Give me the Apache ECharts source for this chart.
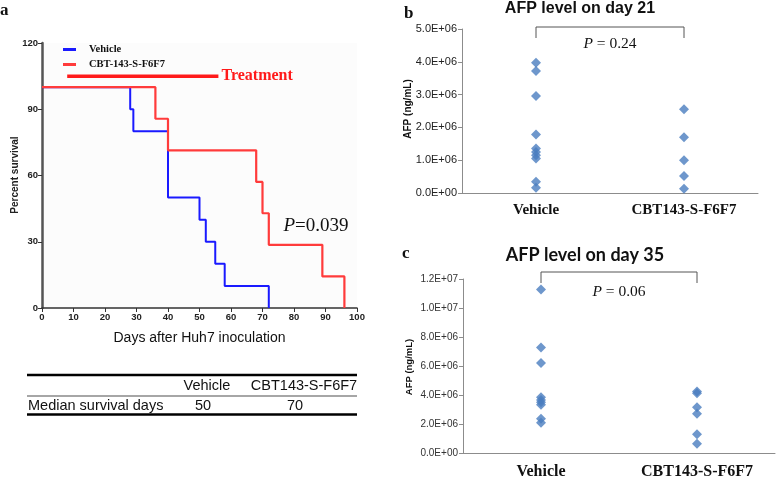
<!DOCTYPE html>
<html><head><meta charset="utf-8">
<script src="https://cdn.jsdelivr.net/npm/echarts@6/dist/echarts.min.js"></script>
<style>html,body{margin:0;padding:0;background:#fff}#c{width:778px;height:480px}</style>
</head><body><div id="c"></div>
<script>
// ---- data ----
const vehicleSurv = [[0,100],[28,90],[29,80],[40,50],[50,40],[52,30],[55,20],[58,10],[72,0]];
const cbtSurv = [[0,100],[36,85.7],[40,71.4],[68,57.1],[70,42.9],[72,28.6],[89,14.3],[96,0]];
const treatmentSpan = [8, 56];
const treatmentLevel = 105;
const groups = ['Vehicle', 'CBT143-S-F6F7'];
const day21Vehicle = [3.97e6,3.72e6,2.96e6,1.78e6,1.36e6,1.25e6,1.15e6,1.05e6,0.34e6,0.16e6];
const day21Cbt = [2.55e6,1.70e6,1.0e6,0.52e6,0.13e6];
const day35Vehicle = [11.28e6,7.28e6,6.2e6,3.85e6,3.66e6,3.5e6,3.32e6,2.36e6,2.08e6];
const day35Cbt = [4.25e6,4.12e6,3.16e6,2.7e6,1.3e6,0.64e6];
const tableHeader = ['Vehicle','CBT143-S-F6F7'];
const tableRowLabel = 'Median survival days';
const medianDays = ['50','70'];
const pValues = ['0.039','0.24','0.06'];

function sci(v){
  if (Math.abs(v) < 1e-9) return '0.0E+00';
  const e = Math.floor(Math.log10(v) + 1e-9);
  const m = v / Math.pow(10, e);
  return m.toFixed(1) + 'E+' + String(e).padStart(2,'0');
}
const serif = '"Liberation Serif","Times New Roman",serif';
const sans = '"Liberation Sans",Arial,sans-serif';
const blue = '#4a7dbf';
const vehColor = '#1a1aff';
const cbtColor = '#ff3b3b';

const chart = echarts.init(document.getElementById('c'), null, {renderer:'canvas'});
const opt = {
  animation:false,
  backgroundColor:'#fff',
  legend:{
    left:58, top:39, orient:'vertical', itemWidth:13, itemHeight:3, itemGap:4,
    data:[
      {name:'Vehicle', icon:'rect', itemStyle:{color:vehColor, borderWidth:0}},
      {name:'CBT-143-S-F6F7', icon:'rect', itemStyle:{color:cbtColor, borderWidth:0}}
    ],
    textStyle:{fontFamily:serif, fontWeight:'bold', fontSize:10.5, color:'#111', padding:[0,0,0,8]}
  },
  grid:[
    {left:42, top:43, width:315, height:265, show:true, backgroundColor:'#fcfcfc', borderWidth:0},
    {left:462, top:29, width:296, height:164},
    {left:463, top:279, width:312, height:178}
  ],
  xAxis:[
    {gridIndex:0, type:'value', min:0, max:100, interval:10,
     axisLine:{show:true, lineStyle:{color:'#333', width:1.5}},
     axisTick:{show:true, length:4, lineStyle:{color:'#333'}},
     axisLabel:{fontFamily:sans, fontSize:9.5, fontWeight:'bold', color:'#222', margin:4},
     splitLine:{show:false},
     name:'Days after Huh7 inoculation', nameLocation:'middle', nameGap:23,
     nameTextStyle:{fontFamily:sans, fontSize:14, color:'#111'}},
    {gridIndex:1, type:'category', data:groups, boundaryGap:true,
     axisLine:{lineStyle:{color:'#8c8c8c'}},
     axisTick:{alignWithLabel:true, length:3, lineStyle:{color:'#8c8c8c'}},
     axisLabel:{fontFamily:serif, fontWeight:'bold', fontSize:15, color:'#111', margin:10}},
    {gridIndex:2, type:'category', data:groups, boundaryGap:true,
     axisLine:{lineStyle:{color:'#8c8c8c'}},
     axisTick:{alignWithLabel:true, length:3, lineStyle:{color:'#8c8c8c'}},
     axisLabel:{fontFamily:serif, fontWeight:'bold', fontSize:16, color:'#111', margin:11}}
  ],
  yAxis:[
    {gridIndex:0, type:'value', min:0, max:120, interval:30,
     axisLine:{show:true, lineStyle:{color:'#555', width:2.5}},
     axisTick:{show:true, length:4, lineStyle:{color:'#333'}},
     axisLabel:{fontFamily:sans, fontSize:9.5, fontWeight:'bold', color:'#222', margin:4},
     splitLine:{show:false}},
    {gridIndex:1, type:'value', min:0, max:5e6, interval:1e6,
     axisLine:{show:true, lineStyle:{color:'#8c8c8c'}},
     axisTick:{show:true, length:4, lineStyle:{color:'#8c8c8c'}},
     axisLabel:{fontFamily:sans, fontSize:11, color:'#222', margin:5, formatter:sci},
     splitLine:{show:false}},
    {gridIndex:2, type:'value', min:0, max:1.2e7, interval:2e6,
     axisLine:{show:true, lineStyle:{color:'#8c8c8c'}},
     axisTick:{show:true, length:4, lineStyle:{color:'#8c8c8c'}},
     axisLabel:{fontFamily:sans, fontSize:10, color:'#333', margin:5, formatter:sci},
     splitLine:{show:false}}
  ],
  series:[
    {name:'Vehicle', type:'line', xAxisIndex:0, yAxisIndex:0, step:'end', data:vehicleSurv, z:2,
     symbol:'none', lineStyle:{color:vehColor, width:2}, itemStyle:{color:vehColor}},
    {name:'CBT-143-S-F6F7', type:'line', xAxisIndex:0, yAxisIndex:0, step:'end', data:cbtSurv, z:3,
     symbol:'none', lineStyle:{color:cbtColor, width:2.2}, itemStyle:{color:cbtColor}},
    {name:'Treatment', type:'line', xAxisIndex:0, yAxisIndex:0,
     data:[[treatmentSpan[0],treatmentLevel],[treatmentSpan[1],treatmentLevel]],
     symbol:'none', lineStyle:{color:'#ff1a1a', width:3.5},
     endLabel:{show:true, formatter:'Treatment', fontFamily:serif, fontWeight:'bold', fontSize:16, color:'#ff1a1a', distance:3}},
    {type:'scatter', xAxisIndex:1, yAxisIndex:1, symbol:'diamond', symbolSize:[10,10],
     itemStyle:{color:blue}, data:day21Vehicle.map(v=>[0,v])},
    {type:'scatter', xAxisIndex:1, yAxisIndex:1, symbol:'diamond', symbolSize:[10,10],
     itemStyle:{color:blue}, data:day21Cbt.map(v=>[1,v])},
    {type:'scatter', xAxisIndex:2, yAxisIndex:2, symbol:'diamond', symbolSize:[10,10],
     itemStyle:{color:blue}, data:day35Vehicle.map(v=>[0,v])},
    {type:'scatter', xAxisIndex:2, yAxisIndex:2, symbol:'diamond', symbolSize:[10,10],
     itemStyle:{color:blue}, data:day35Cbt.map(v=>[1,v])}
  ]
};
chart.setOption(opt);

// annotations positioned with the chart's own scales
const pA = chart.convertToPixel({gridIndex:0}, [87, 37]);
const b0 = chart.convertToPixel({gridIndex:1}, [0, 5e6]);
const b1 = chart.convertToPixel({gridIndex:1}, [1, 5e6]);
const c0 = chart.convertToPixel({gridIndex:2}, [0, 1.2e7]);
const c1 = chart.convertToPixel({gridIndex:2}, [1, 1.2e7]);
const bBase = chart.convertToPixel({gridIndex:1}, [0, 0]);
const cBase = chart.convertToPixel({gridIndex:2}, [0, 0]);

function bracket(p0, p1, topOff, drop){
  const y = p0[1] + topOff;
  return {type:'polyline', shape:{points:[[p0[0],y+drop],[p0[0],y],[p1[0],y],[p1[0],y+drop]]},
    style:{stroke:'#555', lineWidth:1, fill:null}};
}
function ptext(x, y, val, size){
  return {type:'text', x:x, y:y, style:{
    text:'{i|P} = ' + val, fontFamily:serif, fontSize:size, fill:'#111', align:'center', verticalAlign:'middle',
    rich:{i:{fontStyle:'italic', fontFamily:serif, fontSize:size, fill:'#111'}}}};
}
const tx = [27, 357];
chart.setOption({graphic:[
  {type:'text', x:0, y:11, style:{text:'a', fontFamily:serif, fontWeight:'bold', fontSize:17, fill:'#111', verticalAlign:'middle'}},
  {type:'text', x:404, y:14, style:{text:'b', fontFamily:serif, fontWeight:'bold', fontSize:17, fill:'#111', verticalAlign:'middle'}},
  {type:'text', x:402, y:254, style:{text:'c', fontFamily:serif, fontWeight:'bold', fontSize:17, fill:'#111', verticalAlign:'middle'}},
  {type:'text', x:580, y:9, style:{text:'AFP level on day 21', fontFamily:sans, fontWeight:'bold', fontSize:16, fill:'#111', align:'center', verticalAlign:'middle'}},
  {type:'text', x:585, y:255, style:{text:'AFP level on day 35', fontFamily:'Lato,sans-serif', fontWeight:'bold', fontSize:18, fill:'#111', align:'center', verticalAlign:'middle'}},
  {type:'text', x:15, y:175, rotation:Math.PI/2, style:{text:'Percent survival', fontFamily:sans, fontWeight:'bold', fontSize:10, fill:'#222', align:'center', verticalAlign:'middle'}},
  {type:'text', x:408, y:(b0[1]+bBase[1])/2 - 2, rotation:Math.PI/2, style:{text:'AFP (ng/mL)', fontFamily:sans, fontWeight:'bold', fontSize:10, fill:'#111', align:'center', verticalAlign:'middle'}},
  {type:'text', x:409, y:(c0[1]+cBase[1])/2 + 1, rotation:Math.PI/2, style:{text:'AFP (ng/mL)', fontFamily:sans, fontWeight:'bold', fontSize:9.5, fill:'#111', align:'center', verticalAlign:'middle'}},
  {type:'text', x:pA[0], y:pA[1], style:{
    text:'{i|P}=' + pValues[0], fontFamily:serif, fontSize:19, fill:'#111', align:'center', verticalAlign:'middle',
    rich:{i:{fontStyle:'italic', fontFamily:serif, fontSize:19, fill:'#111'}}}},
  bracket(b0, b1, -2, 11),
  ptext((b0[0]+b1[0])/2, b0[1]+15, pValues[1], 15.5),
  bracket(c0, c1, -7, 11),
  ptext((c0[0]+c1[0])/2, c0[1]+13, pValues[2], 15.5),
  // table
  {type:'line', shape:{x1:tx[0], y1:375, x2:tx[1], y2:375}, style:{stroke:'#000', lineWidth:2.5}},
  {type:'line', shape:{x1:tx[0], y1:396, x2:tx[1], y2:396}, style:{stroke:'#888', lineWidth:1.5}},
  {type:'line', shape:{x1:tx[0], y1:414.5, x2:tx[1], y2:414.5}, style:{stroke:'#000', lineWidth:2.5}},
  {type:'text', x:207, y:386, style:{text:tableHeader[0], fontFamily:sans, fontSize:14.5, fill:'#111', align:'center', verticalAlign:'middle'}},
  {type:'text', x:304, y:386, style:{text:tableHeader[1], fontFamily:sans, fontSize:14.5, fill:'#111', align:'center', verticalAlign:'middle'}},
  {type:'text', x:28, y:405.5, style:{text:tableRowLabel, fontFamily:sans, fontSize:14.5, fill:'#111', align:'left', verticalAlign:'middle'}},
  {type:'text', x:203, y:405.5, style:{text:medianDays[0], fontFamily:sans, fontSize:14.5, fill:'#111', align:'center', verticalAlign:'middle'}},
  {type:'text', x:295, y:405.5, style:{text:medianDays[1], fontFamily:sans, fontSize:14.5, fill:'#111', align:'center', verticalAlign:'middle'}}
]});
</script></body></html>
